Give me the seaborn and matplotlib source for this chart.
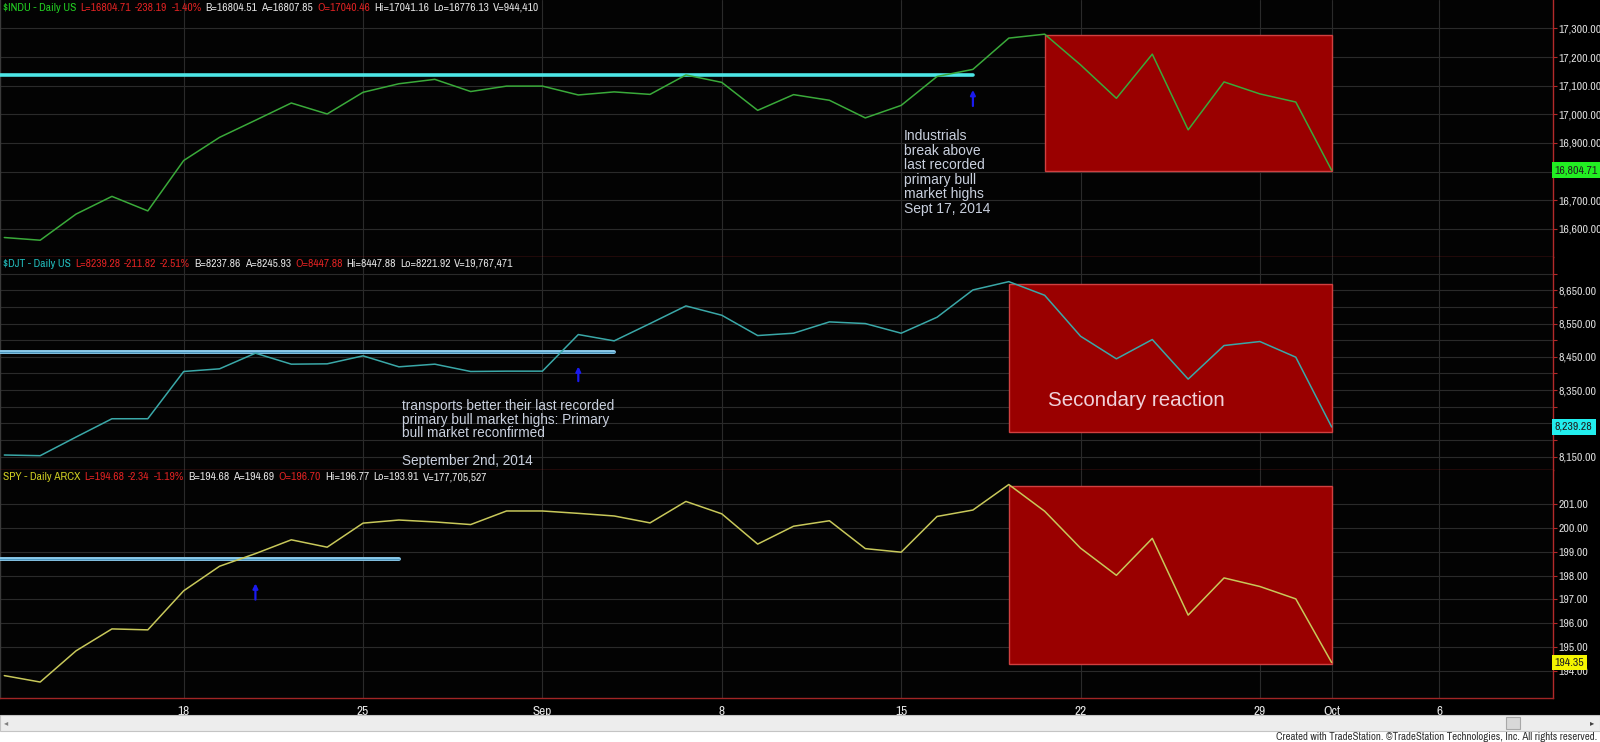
import numpy as np
import pandas as pd
import seaborn as sns
from matplotlib import pyplot as plt
from matplotlib import font_manager
from matplotlib.patches import Rectangle
from matplotlib.ticker import FixedLocator, FixedFormatter

# trading slots, Aug 11 - Oct 1 2014 (TradeStation keeps a flat bar on Labor Day)
dates = ['2014-08-11', '2014-08-12', '2014-08-13', '2014-08-14', '2014-08-15',
         '2014-08-18', '2014-08-19', '2014-08-20', '2014-08-21', '2014-08-22',
         '2014-08-25', '2014-08-26', '2014-08-27', '2014-08-28', '2014-08-29',
         '2014-09-01', '2014-09-02', '2014-09-03', '2014-09-04', '2014-09-05',
         '2014-09-08', '2014-09-09', '2014-09-10', '2014-09-11', '2014-09-12',
         '2014-09-15', '2014-09-16', '2014-09-17', '2014-09-18', '2014-09-19',
         '2014-09-22', '2014-09-23', '2014-09-24', '2014-09-25', '2014-09-26',
         '2014-09-29', '2014-09-30', '2014-10-01']

indu = [16569.98, 16560.54, 16651.80, 16713.58, 16662.91,
        16838.74, 16919.59, 16979.13, 17039.49, 17001.22,
        17076.87, 17106.70, 17122.01, 17079.57, 17098.45,
        17098.45, 17067.56, 17078.28, 17069.58, 17137.36,
        17111.42, 17013.87, 17068.71, 17049.00, 16987.51,
        17031.14, 17131.97, 17156.85, 17265.99, 17279.74,
        17172.68, 17055.87, 17210.06, 16945.80, 17113.15,
        17071.22, 17042.90, 16804.71]

djt = [8155, 8153, 8209, 8264, 8264,
       8406, 8414, 8461, 8428, 8429,
       8453, 8420, 8428, 8406, 8407,
       8407, 8517, 8498, 8550, 8603,
       8575, 8514, 8521, 8555, 8550,
       8521, 8569, 8651, 8676, 8635,
       8512, 8444, 8502, 8383, 8484,
       8496, 8449, 8239.28]

spy = [193.80, 193.53, 194.84, 195.76, 195.72,
       197.36, 198.39, 198.92, 199.50, 199.19,
       200.20, 200.33, 200.25, 200.14, 200.71,
       200.71, 200.61, 200.50, 200.21, 201.11,
       200.59, 199.32, 200.07, 200.30, 199.13,
       198.98, 200.48, 200.75, 201.82, 200.70,
       199.15, 198.01, 199.56, 196.34, 197.90,
       197.54, 197.02, 194.35]

tick_dates = ['2014-08-18', '2014-08-25', '2014-09-01', '2014-09-08', '2014-09-15',
              '2014-09-22', '2014-09-29', '2014-10-01', '2014-10-06']
tick_labels = ['18', '25', 'Sep', '8', '15', '22', '29', 'Oct', '6']

# old primary bull market highs, and the date each one was bettered
breakout_levels = [17138, 8465, 198.68]
breakout_end = ['2014-09-17', '2014-09-03', '2014-08-26']
breakout_arrow = ['2014-09-17', '2014-09-02', '2014-08-20']
arrow_spans = [(17029, 17085), (8377, 8421), (196.99, 197.67)]

# secondary reaction boxes (start date, low, high)
reaction_start = ['2014-09-19', '2014-09-18', '2014-09-18']
reaction_lows = [16801, 8223, 194.29]
reaction_highs = [17278, 8670, 201.76]

W, H = 1600, 742
START = '2014-08-11'


def slot(d):
    return np.busday_count(START, d)


sns.set_style('dark')
names = {f.name for f in font_manager.fontManager.ttflist}
narrow = [n for n in ['Archivo Narrow', 'Liberation Sans Narrow', 'Asap Condensed'] if n in names]
if narrow:
    plt.rcParams['font.family'] = [narrow[0], 'Liberation Sans', 'DejaVu Sans']
    SMALL = 8.3
else:
    plt.rcParams['font.family'] = ['Liberation Sans', 'DejaVu Sans']
    SMALL = 7
SANS = ['Liberation Sans', 'DejaVu Sans']

df = pd.DataFrame({'slot': slot(dates), 'INDU': indu, 'DJT': djt, 'SPY': spy})

fig = plt.figure(figsize=(16, 7.42), dpi=100, facecolor='black')

panels = [
    # name, colour, top px, bottom px, ylim, ticks, labelled ticks, fmt, box colour
    ('INDU', '#3aaa3a', 0, 257, (16502, 17399), np.arange(16600, 17301, 100),
     [16600, 16700, 16900, 17000, 17100, 17200, 17300], '{:,.2f}', '#22ee22'),
    ('DJT', '#3aa8a8', 257, 470, (8110, 8750), np.arange(8150, 8701, 50),
     np.arange(8150, 8651, 100), '{:,.2f}', '#22eeee'),
    ('SPY', '#c8c85a', 470, 698, (192.86, 202.43), np.arange(194, 202, 1.0),
     np.arange(194, 202, 1.0), '{:.2f}', '#f4f400'),
]

x_left, x_right = -0.12, 43.17
axes = []
for k, (name, col, top, bot, ylim, ticks, labelled, fmt, boxcol) in enumerate(panels):
    ax = fig.add_axes([0, 1 - bot / H, 1553 / W, (bot - top) / H])
    ax.set_facecolor('#030303')
    sns.lineplot(data=df, x='slot', y=name, ax=ax, color=col, lw=1.1, zorder=5)
    ax.set_xlim(x_left, x_right)
    ax.set_ylim(*ylim)
    ax.set_xlabel('')
    ax.set_ylabel('')

    ax.xaxis.set_major_locator(FixedLocator(slot(tick_dates)))
    ax.yaxis.set_major_locator(FixedLocator(ticks))
    ax.yaxis.set_major_formatter(FixedFormatter(
        [fmt.format(t) if np.any(np.isclose(t, labelled)) else '' for t in ticks]))
    ax.yaxis.tick_right()
    ax.grid(True, color='#2a2a2a', lw=0.8)
    ax.tick_params(axis='y', direction='out', length=3, width=0.8, color='#b22a2a',
                   labelcolor='#dcdcdc', labelsize=SMALL + 0.2, pad=1)
    if k < 2:
        ax.tick_params(axis='x', length=0, labelbottom=False)
    else:
        ax.xaxis.set_major_formatter(FixedFormatter(tick_labels))
        ax.tick_params(axis='x', direction='out', length=4, width=0.8, color='#b22a2a',
                       labelcolor='#e4e4e4', labelsize=SMALL + 1.3, pad=2)
    ax.spines['top'].set_visible(False)
    ax.spines['right'].set_color('#b22a2a')
    ax.spines['bottom'].set_color('#a02525')
    ax.spines['left'].set_color('#3a3a3a')
    for s in ax.spines.values():
        s.set_linewidth(1)

    # old high line
    lvl = breakout_levels[k]
    end = slot(breakout_end[k])
    if k == 0:
        ax.plot([x_left, end], [lvl, lvl], color='#4de6e6', lw=2.6, zorder=4)
    else:
        ax.plot([x_left, end], [lvl, lvl], color='#8ccbec', lw=2.8, zorder=4)
        ax.plot([x_left, end], [lvl, lvl], color='#4a95bd', lw=0.8, zorder=4)

    # breakout arrow
    ax_x = slot(breakout_arrow[k])
    lo, hi = arrow_spans[k]
    ax.annotate('', xy=(ax_x, hi), xytext=(ax_x, lo),
                arrowprops=dict(arrowstyle='-|>', color='#1a1aee', lw=1.6, mutation_scale=7,
                                shrinkA=0, shrinkB=0), zorder=6)

    # secondary reaction box
    x0 = slot(reaction_start[k])
    ax.add_patch(Rectangle((x0, reaction_lows[k]), slot(dates[-1]) - x0,
                           reaction_highs[k] - reaction_lows[k],
                           fc='#9a0000', ec='#d04040', lw=1, zorder=3))

    # last price box
    last = df[name].iloc[-1]
    ax.text(1.0012, last, fmt.format(last), transform=ax.get_yaxis_transform(),
            ha='left', va='center', fontsize=SMALL + 0.2, color='#202020', clip_on=False,
            zorder=10, bbox=dict(boxstyle='square,pad=0.25', fc=boxcol, ec='none'))
    axes.append(ax)

ax1, ax2, ax3 = axes
ax1.text(slot('2014-09-15') + 0.07, 16948,
         'Industrials\nbreak above\nlast recorded\nprimary bull\nmarket highs\nSept 17, 2014',
         color='#c9d0de', fontsize=10, va='top', ha='left', linespacing=1.05, family=SANS)
ax2.text(11.08, 8324,
         'transports better their last recorded\nprimary bull market highs: Primary\n'
         'bull market reconfirmed\n\nSeptember 2nd, 2014',
         color='#c9d0de', fontsize=9.8, va='top', ha='left', linespacing=0.98, family=SANS)
ax2.text(slot('2014-09-19') + 0.1, 8318, 'Secondary reaction', color='#f0d2da',
         fontsize=14.8, va='center', ha='left', family=SANS)

# quote headers
headers = [
    (8, [('$INDU - Daily US', '#22cc22'), ('L=16804.71', '#dd2222'), ('-238.19', '#dd2222'),
         ('-1.40%', '#dd2222'), ('B=16804.51', '#e2e2e2'), ('A=16807.85', '#e2e2e2'),
         ('O=17040.46', '#dd2222'), ('Hi=17041.16', '#e2e2e2'), ('Lo=16776.13', '#e2e2e2'),
         ('V=944,410', '#e2e2e2')]),
    (264, [('$DJT - Daily US', '#22bbbb'), ('L=8239.28', '#dd2222'), ('-211.82', '#dd2222'),
           ('-2.51%', '#dd2222'), ('B=8237.86', '#e2e2e2'), ('A=8245.93', '#e2e2e2'),
           ('O=8447.88', '#dd2222'), ('Hi=8447.88', '#e2e2e2'), ('Lo=8221.92', '#e2e2e2'),
           ('V=19,767,471', '#e2e2e2')]),
    (477, [('SPY - Daily ARCX', '#cccc22'), ('L=194.68', '#dd2222'), ('-2.34', '#dd2222'),
           ('-1.19%', '#dd2222'), ('B=194.68', '#e2e2e2'), ('A=194.69', '#e2e2e2'),
           ('O=196.70', '#dd2222'), ('Hi=196.77', '#e2e2e2'), ('Lo=193.91', '#e2e2e2'),
           ('V=177,705,527', '#e2e2e2')]),
]
renderer = fig.canvas.get_renderer()
for y_px, parts in headers:
    x = 3
    for txt, col in parts:
        t = fig.text(x / W, 1 - y_px / H, txt, color=col, fontsize=SMALL,
                     ha='left', va='center')
        x += t.get_window_extent(renderer).width + 4

# scrollbar and credit strip
fig.patches.append(Rectangle((0, 0), 1, 11 / H, transform=fig.transFigure,
                             fc='white', ec='none', zorder=0))
fig.patches.append(Rectangle((0, 11 / H), 1, 16 / H, transform=fig.transFigure,
                             fc='#ededed', ec='#c4c4c4', lw=0.8, zorder=0))
fig.patches.append(Rectangle((1506 / W, 13 / H), 14 / W, 12 / H, transform=fig.transFigure,
                             fc='#d8d8d8', ec='#a8a8a8', lw=0.8, zorder=1))
fig.text(4 / W, 19 / H, '◂', color='#808080', fontsize=6, va='center',
         family=['DejaVu Sans'])
fig.text(1590 / W, 19 / H, '▸', color='#404040', fontsize=6, va='center',
         family=['DejaVu Sans'])
fig.text(1597 / W, 5 / H,
         'Created with TradeStation. ©TradeStation Technologies, Inc. All rights reserved.',
         color='#303030', fontsize=SMALL - 0.5, ha='right', va='center')

fig.savefig('out.png', dpi=100, facecolor='black')
